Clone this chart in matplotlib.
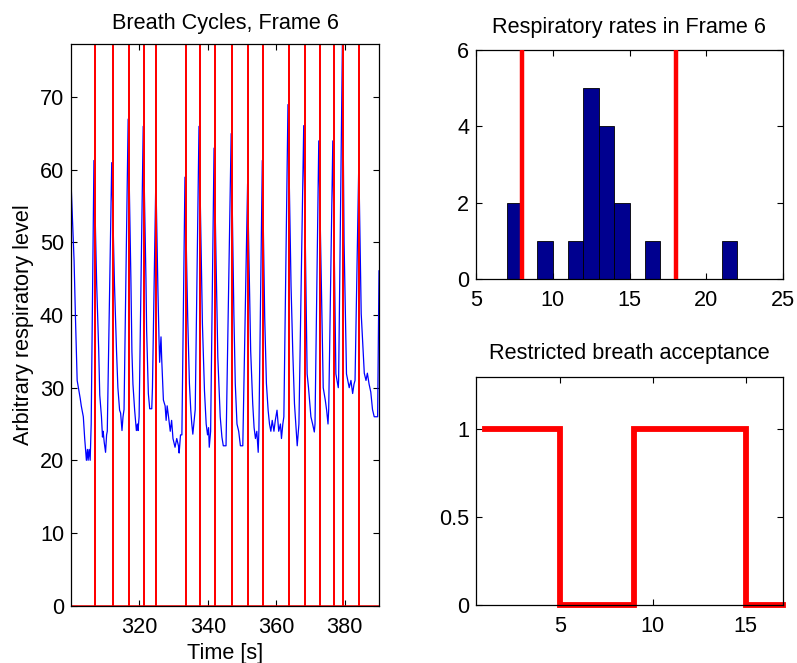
import matplotlib
matplotlib.use("Agg")
import matplotlib.pyplot as plt
import numpy as np

plt.rcParams['font.family'] = ['Liberation Sans', 'DejaVu Sans']
FS = 15.6
plt.rcParams['font.size'] = FS

# ---------------- data ----------------
resp_time = [
    300.0, 300.1, 300.9, 301.3, 301.8, 302.2, 302.7, 303.0, 303.6, 304.0, 304.2, 304.5, 304.8, 305.0, 305.3, 305.6, 305.9,
    306.7, 307.5, 308.1, 308.4, 308.9, 309.2, 309.4, 309.7, 310.1, 310.4, 310.6,
    311.9, 312.7, 313.3, 313.7, 314.2, 314.5, 314.9, 315.2, 315.5,
    316.7, 317.5, 317.8, 318.1, 318.6, 319.1, 319.4, 319.6, 319.9,
    321.1, 321.9, 322.1, 322.6, 323.0, 323.6, 323.8,
    324.8, 325.4, 325.7, 325.9, 326.3, 326.5, 327.0, 327.5, 327.8, 328.1, 328.5, 329.0, 329.4, 329.8, 330.4, 330.9,
    331.4, 331.6, 332.0, 332.4,
    333.3, 334.1, 334.6, 335.0, 335.3, 335.6, 335.9, 336.3,
    337.4, 338.4, 339.0, 339.5, 339.9, 340.2, 340.4, 340.8,
    341.8, 342.9, 343.6, 344.1, 344.5, 345.3,
    346.8, 347.6, 348.0, 348.5, 349.0, 349.5, 350.2,
    351.6, 352.5, 353.1, 353.5, 353.9, 354.3, 354.7, 354.9,
    355.9, 356.6, 357.1, 357.6, 358.0, 358.4, 358.8, 359.3, 359.7, 360.2, 360.7, 361.2, 361.5, 361.9, 362.2,
    363.4, 364.3, 364.8, 365.3, 365.8, 366.1, 366.6,
    368.0, 369.0, 369.4, 370.1, 370.6, 371.1, 371.3,
    372.4, 373.7, 374.3, 374.7, 375.1, 375.3,
    376.5, 377.4, 378.1, 378.2,
    379.3, 379.8, 380.5, 381.3, 381.8, 382.3, 382.7, 383.0,
    384.1, 384.8, 385.4, 385.7, 386.2, 386.6, 387.1, 387.6, 388.1, 388.6, 389.6, 390.0,
]
resp_level = [
    58.0, 57.2, 47.5, 39.7, 31.0, 29.9, 28.5, 27.5, 26.0, 23.0, 21.8, 20.0, 21.5, 20.0, 21.5, 20.0, 25.0,
    61.3, 44.3, 35.1, 29.0, 26.0, 23.2, 24.0, 22.5, 21.1, 23.5, 24.0,
    61.0, 44.3, 35.1, 30.0, 26.9, 26.5, 24.1, 26.0, 27.0,
    67.0, 45.0, 35.0, 30.5, 26.9, 24.1, 25.0, 24.1, 26.0,
    66.0, 45.0, 37.9, 29.2, 27.1, 27.1, 30.0,
    59.0, 43.4, 37.0, 33.5, 37.0, 34.0, 28.3, 27.5, 25.5, 27.5, 26.0, 24.0, 25.5, 23.0, 21.8, 23.0,
    22.0, 21.0, 23.5, 23.5,
    59.0, 39.7, 30.6, 26.9, 25.0, 23.6, 25.0, 27.0,
    66.0, 38.8, 29.6, 25.0, 23.5, 24.5, 21.8, 24.0,
    63.0, 34.2, 26.0, 23.2, 22.0, 22.0,
    65.0, 40.0, 30.6, 25.0, 24.0, 22.0, 22.0,
    58.1, 35.1, 27.8, 24.5, 23.0, 24.0, 21.1, 24.0,
    61.3, 39.7, 30.6, 26.9, 25.0, 24.0, 25.5, 24.0, 25.5, 26.9, 24.0, 25.0, 23.0, 25.0, 26.0,
    69.0, 44.0, 35.0, 27.8, 24.1, 22.0, 25.0,
    66.1, 31.9, 30.0, 26.0, 25.0, 23.9, 25.0,
    64.0, 30.0, 28.3, 26.9, 25.0, 27.0,
    64.0, 31.9, 30.0, 31.0,
    77.3, 50.0, 31.9, 30.0, 31.0, 29.2, 30.5, 31.0,
    61.0, 40.2, 34.7, 32.0, 31.0, 32.0, 30.5, 29.4, 27.0, 26.0, 26.0, 46.1,
]
breath_times = [307.0, 312.2, 316.9, 321.3, 324.9, 333.6, 337.7, 342.2, 347.0,
                351.8, 356.2, 363.7, 368.4, 372.7, 376.8, 379.6, 384.2]

hist_bin_centers = [7.5, 9.5, 11.5, 12.5, 13.5, 14.5, 16.5, 21.5]
hist_counts = [2, 1, 1, 5, 4, 2, 1, 1]
rate_limits = [8, 18]

accept_index = list(range(1, 18))
accept_value = [1, 1, 1, 1, 0, 0, 0, 0, 1, 1, 1, 1, 1, 1, 0, 0, 0]

# ---------------- figure ----------------
W, H = 797, 663
fig = plt.figure(figsize=(W / 100, H / 100), dpi=100)

def px_axes(x0, y0, x1, y1):
    return fig.add_axes([x0 / W, 1 - y1 / H, (x1 - x0) / W, (y1 - y0) / H])

def style(ax):
    ax.tick_params(direction='in', top=True, right=True, length=4, width=0.8,
                   labelsize=FS, colors='black')
    ax.tick_params(axis='y', pad=5)
    ax.tick_params(axis='x', pad=8)
    for s in ax.spines.values():
        s.set_linewidth(0.9)
        s.set_color('black')

# Left: breath cycles
ax1 = px_axes(71, 44.3, 379, 605.5)
ax1.plot(resp_time, resp_level, color='#0000FF', lw=0.9)
top = max(resp_level)
sx, sy = [300.0], [0.0]
for t in breath_times:
    sx += [t, t, t]
    sy += [0.0, top, 0.0]
sx.append(390.0)
sy.append(0.0)
ax1.plot(sx, sy, color='#FF0000', lw=1.1)
ax1.set_xlim(300, 390)
ax1.set_ylim(0, top)
ax1.set_xticks([320, 340, 360, 380])
ax1.set_yticks(range(0, 71, 10))
ax1.set_title('Breath Cycles, Frame 6', fontsize=FS, pad=11)
ax1.set_xlabel('Time [s]', fontsize=FS, labelpad=4)
ax1.set_ylabel('Arbitrary respiratory level', fontsize=FS, labelpad=4)
style(ax1)

# Top right: histogram
ax2 = px_axes(476, 50, 783, 279.3)
ax2.bar(hist_bin_centers, hist_counts, width=1.0, color='#00008F',
        edgecolor='black', linewidth=0.6, zorder=2)
for r in rate_limits:
    ax2.plot([r, r], [0, 6], color='#FF0000', lw=3.2, zorder=3)
ax2.set_xlim(5, 25)
ax2.set_ylim(0, 6)
ax2.set_xticks([5, 10, 15, 20, 25])
ax2.set_yticks([0, 2, 4, 6])
ax2.set_title('Respiratory rates in Frame 6', fontsize=FS, pad=12)
style(ax2)

# Bottom right: acceptance
ax3 = px_axes(476, 376.7, 783, 605)
ax3.step(accept_index, accept_value, where='post', color='#FF0000', lw=4.2,
         clip_on=False, solid_joinstyle='miter')
ax3.set_xlim(0.5, 17)
ax3.set_ylim(0, 1.3)
ax3.set_xticks([5, 10, 15])
ax3.set_yticks([0, 0.5, 1])
ax3.set_yticklabels(['0', '0.5', '1'])
ax3.set_title('Restricted breath acceptance', fontsize=FS, pad=13)
style(ax3)

fig.savefig('out.png', dpi=100)
